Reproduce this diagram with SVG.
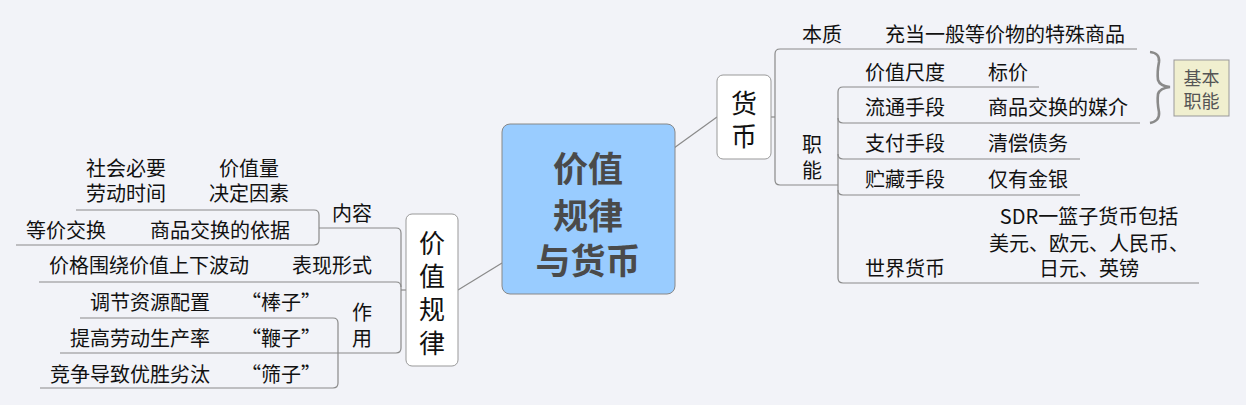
<svg xmlns="http://www.w3.org/2000/svg" width="1246" height="405" viewBox="0 0 1246 405">
<style>
text{font-family:"Noto Sans CJK SC","Noto Sans",sans-serif;font-size:20px;fill:#111;dominant-baseline:central}
.m{text-anchor:middle}
.ln{fill:none;stroke:#8a8a8a;stroke-width:1.2}
.node{fill:#fff;stroke:#999;stroke-width:1}
.big{font-size:35px;font-weight:bold;fill:#4a4a4a;text-anchor:middle}
.nt{font-size:26px;text-anchor:middle}
.tag{font-size:18px;fill:#555;text-anchor:middle}
</style>
<rect width="1246" height="405" fill="#f2f3f8"/>
<g id="connectors">
<line class="ln" x1="674" y1="148" x2="717" y2="117"/>
<line class="ln" x1="502" y1="263" x2="458" y2="290"/>
<line class="ln" x1="771" y1="117" x2="775" y2="117"/>
<path class="ln" d="M1137 49H780Q775 49 775 54V180Q775 185 780 185H838"/>
<path class="ln" d="M1039 87H843Q838 87 838 92V278Q838 283 843 283H1199"/>
<path class="ln" d="M838 118Q838 123 843 123H1140"/>
<path class="ln" d="M838 154Q838 159 843 159H1080"/>
<path class="ln" d="M838 190Q838 195 843 195H1080"/>
<line class="ln" x1="406" y1="290" x2="401" y2="290"/>
<path class="ln" d="M319 228H396Q401 228 401 233V348Q401 353 396 353H60"/>
<path class="ln" d="M39 282H396Q401 282 401 287"/>
<path class="ln" d="M76 210H314Q319 210 319 215V240Q319 245 314 245H16"/>
<path class="ln" d="M80 318H333Q338 318 338 323V383Q338 388 333 388H40"/>
</g>
<g id="center">
<rect x="502" y="124" width="173" height="170" rx="8" fill="#99ccff" stroke="#888" stroke-width="1"/>
<text class="big" x="588" y="166">价值<tspan x="588" y="213">规律</tspan><tspan x="588" y="258">与货币</tspan></text>
</g>
<g id="node-huobi">
<rect class="node" x="717" y="75" width="54" height="84" rx="6"/>
<text class="nt" x="744" y="101">货<tspan x="744" y="134">币</tspan></text>
</g>
<g id="node-jiazhiguilv">
<rect class="node" x="406" y="214" width="52" height="152" rx="6"/>
<text class="nt" x="432" y="241">价<tspan x="432" y="274">值</tspan><tspan x="432" y="307">规</tspan><tspan x="432" y="341">律</tspan></text>
</g>
<g id="node-neirong">
<text x="332" y="212">内容</text>
</g>
<g id="node-jiazhiliang">
<text x="219" y="167">价值量<tspan x="209" y="192">决定因素</tspan></text>
</g>
<g id="node-shehui">
<text x="86" y="167">社会必要<tspan x="86" y="192">劳动时间</tspan></text>
</g>
<g id="node-yiju">
<text x="150" y="229">商品交换的依据</text>
</g>
<g id="node-dengjia">
<text x="26" y="229">等价交换</text>
</g>
<g id="node-biaoxian">
<text x="292" y="264">表现形式</text>
</g>
<g id="node-bodong">
<text x="49" y="264">价格围绕价值上下波动</text>
</g>
<g id="node-zuoyong">
<text x="352" y="311">作<tspan x="352" y="337">用</tspan></text>
</g>
<g id="node-bangzi">
<text class="m" x="281" y="301">“棒子”</text>
</g>
<g id="node-tiaojie">
<text x="90" y="301">调节资源配置</text>
</g>
<g id="node-bianzi">
<text class="m" x="281" y="337">“鞭子”</text>
</g>
<g id="node-tigao">
<text x="70" y="337">提高劳动生产率</text>
</g>
<g id="node-shaizi">
<text class="m" x="281" y="373">“筛子”</text>
</g>
<g id="node-jingzheng">
<text x="50" y="373">竞争导致优胜劣汰</text>
</g>
<g id="node-benzhi">
<text x="802" y="33">本质</text>
</g>
<g id="node-chongdang">
<text x="885" y="33">充当一般等价物的特殊商品</text>
</g>
<g id="node-zhineng">
<text x="802" y="143">职<tspan x="802" y="169">能</tspan></text>
</g>
<g id="node-chidu">
<text x="865" y="71">价值尺度</text>
<text x="988" y="71">标价</text>
</g>
<g id="node-liutong">
<text x="865" y="106">流通手段</text>
<text x="988" y="106">商品交换的媒介</text>
</g>
<g id="node-zhifu">
<text x="865" y="142">支付手段</text>
<text x="988" y="142">清偿债务</text>
</g>
<g id="node-zhucang">
<text x="865" y="178">贮藏手段</text>
<text x="988" y="178">仅有金银</text>
</g>
<g id="node-shijie">
<text x="865" y="267">世界货币</text>
<text class="m" x="1089" y="215">SDR一篮子货币包括<tspan x="1089" y="242">美元、欧元、人民币、</tspan><tspan x="1089" y="267">日元、英镑</tspan></text>
</g>
<g id="node-jiben">
<path d="M1150 52Q1160 53 1159 62Q1157 72 1158 80Q1160 86 1170 87Q1160 88 1158 94Q1157 102 1159 112Q1160 121 1150 123" fill="none" stroke="#8a8a8a" stroke-width="2.6"/>
<rect x="1174" y="60" width="55" height="56" fill="#f0efcf" stroke="#999" stroke-width="1"/>
<text class="tag" x="1201.5" y="77">基本<tspan x="1201.5" y="100">职能</tspan></text>
</g>
</svg>
